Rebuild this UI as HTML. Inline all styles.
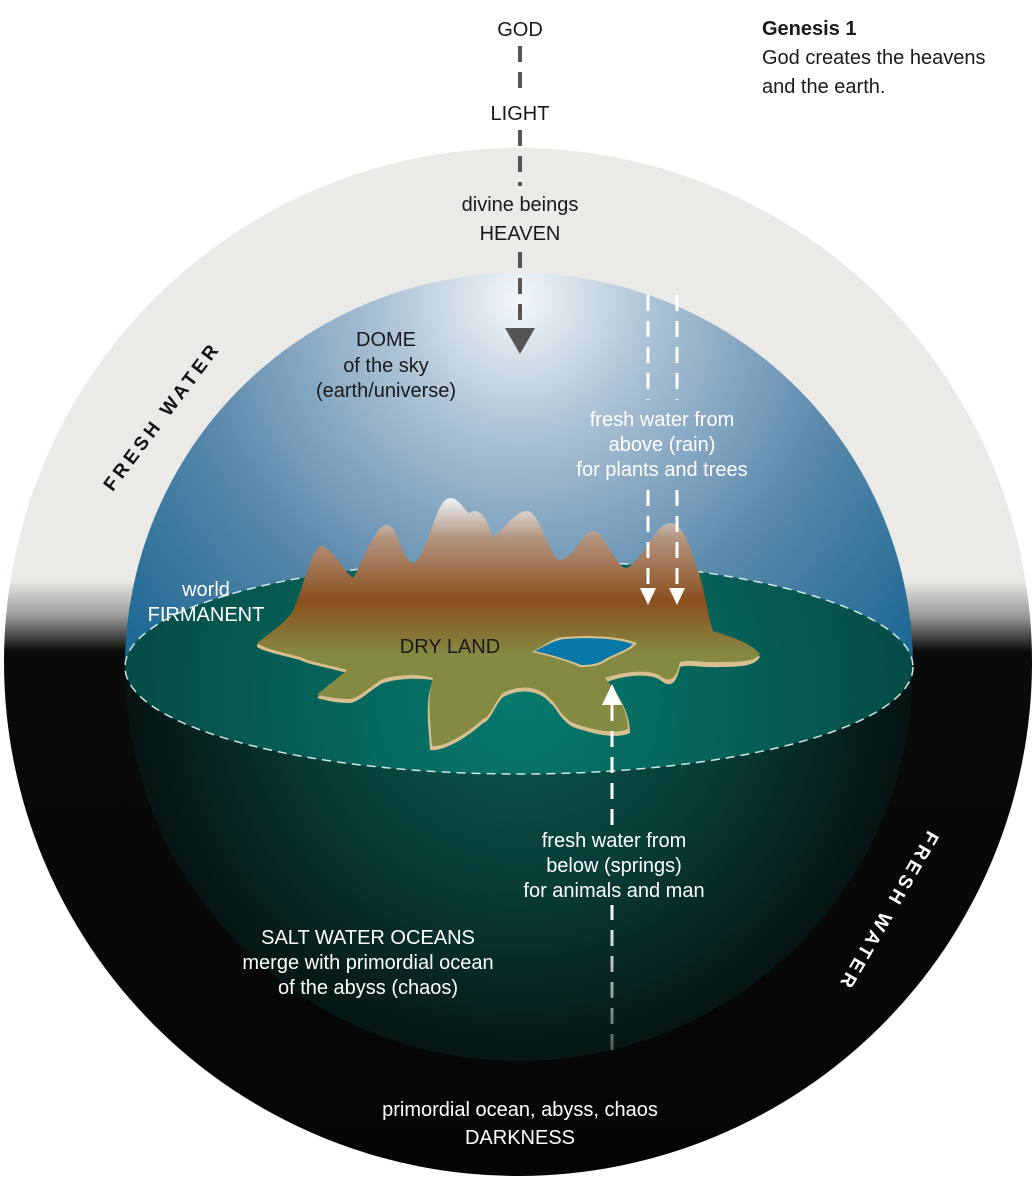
<!DOCTYPE html>
<html><head><meta charset="utf-8"><style>
html,body{margin:0;padding:0;background:#fff;}
body{width:1035px;height:1188px;overflow:hidden;}
svg text{font-family:"Liberation Sans",sans-serif;}
</style></head><body>
<svg width="1035" height="1188" viewBox="0 0 1035 1188" xmlns="http://www.w3.org/2000/svg">
<defs>
<linearGradient id="outer" x1="0" y1="0" x2="0" y2="1" gradientUnits="objectBoundingBox">
<stop offset="0" stop-color="#ebeae6"/>
<stop offset="0.42" stop-color="#ebeae6"/>
<stop offset="0.455" stop-color="#9a9a98"/>
<stop offset="0.49" stop-color="#0a0a0a"/>
<stop offset="1" stop-color="#050505"/>
</linearGradient>
<radialGradient id="dome" cx="519" cy="300" r="560" gradientUnits="userSpaceOnUse">
<stop offset="0" stop-color="#f4f7fa"/>
<stop offset="0.25" stop-color="#a9c0d4"/>
<stop offset="0.6" stop-color="#5887ab"/>
<stop offset="1" stop-color="#0f628f"/>
</radialGradient>
<radialGradient id="under" cx="519" cy="680" r="420" gradientUnits="userSpaceOnUse">
<stop offset="0" stop-color="#0c5d55"/>
<stop offset="0.5" stop-color="#083c37"/>
<stop offset="1" stop-color="#060d0c"/>
</radialGradient>
<radialGradient id="disk" cx="519" cy="700" r="400" gradientUnits="userSpaceOnUse">
<stop offset="0" stop-color="#077a6e"/>
<stop offset="1" stop-color="#054b45"/>
</radialGradient>
<linearGradient id="mtn" x1="0" y1="500" x2="0" y2="750" gradientUnits="userSpaceOnUse">
<stop offset="0" stop-color="#e9eef1"/>
<stop offset="0.15" stop-color="#b49580"/>
<stop offset="0.4" stop-color="#8a4f1e"/>
<stop offset="0.62" stop-color="#858a42"/>
<stop offset="1" stop-color="#858a42"/>
</linearGradient>
<linearGradient id="fade" x1="0" y1="905" x2="0" y2="1050" gradientUnits="userSpaceOnUse">
<stop offset="0" stop-color="#fff"/>
<stop offset="1" stop-color="#fff" stop-opacity="0.3"/>
</linearGradient>
</defs>
<circle cx="518" cy="662" r="514" fill="url(#outer)"/>
<path d="M125 667 A394 394 0 0 0 913 667 Z" fill="url(#under)"/>
<path d="M125 667 A394 394 0 0 1 913 667 Z" fill="url(#dome)"/>
<ellipse cx="519" cy="667" rx="394" ry="107" fill="url(#disk)"/>
<ellipse cx="519" cy="667" rx="394" ry="107" fill="none" stroke="#cfe6e3" stroke-width="1.5" stroke-dasharray="9,6"/>
<path d="M257 645 C270 635 285 625 293 613 C305 585 312 548 322 548 C333 550 345 575 353 580 C365 560 375 527 387 527 C398 527 403 565 413 565 C428 560 435 500 450 500 C460 500 465 515 470 515 C475 510 485 512 493 540 C505 530 515 513 527 513 C540 513 550 562 560 562 C575 560 583 533 593 533 C605 533 615 570 627 570 C645 560 655 525 670 525 C685 525 693 560 697 570 C705 590 708 620 713 633 C735 640 750 645 760 657 C755 665 745 667 720 667 C700 668 690 664 680 667 C676 685 670 688 660 680 C650 673 625 675 607 682 C615 690 630 710 630 733 C615 740 590 733 573 727 C560 720 555 705 550 703 C540 690 520 688 503 697 C495 705 490 722 483 723 C470 735 445 752 430 750 C428 720 425 700 433 680 C420 678 400 678 383 683 C370 690 360 702 350 703 C335 703 325 700 317 698 C325 690 340 680 347 673 C330 668 310 665 300 660 C285 656 265 652 257 647 Z" fill="#d7bf8f"/>
<path d="M257 643 C270 633 285 623 293 611 C305 583 312 546 322 546 C333 548 345 573 353 578 C365 558 375 525 387 525 C398 525 403 563 413 563 C428 558 435 498 450 498 C460 498 465 513 470 513 C475 508 485 510 493 538 C505 528 515 511 527 511 C540 511 550 560 560 560 C575 558 583 531 593 531 C605 531 615 568 627 568 C645 558 655 523 670 523 C685 523 693 558 697 568 C705 588 708 618 713 631 C735 638 750 643 760 654 C755 661 745 662 720 662 C700 663 690 659 680 662 C676 680 670 683 660 676 C650 669 625 671 605 678 C613 688 628 708 628 729 C613 735 590 729 573 723 C560 716 555 701 550 699 C540 686 520 684 503 693 C495 701 490 718 483 719 C470 731 445 748 432 746 C430 716 427 696 433 678 C420 674 400 674 383 679 C370 686 360 698 350 699 C335 699 325 696 317 695 C325 687 340 677 347 670 C330 665 310 662 300 657 C285 653 265 649 257 643 Z" fill="url(#mtn)"/>
<path d="M532 652 C545 645 553 638 563 637 C590 635 620 636 637 643 C630 652 615 655 603 663 C595 667 585 667 580 667 C565 660 545 655 532 652 Z" fill="#d7bf8f"/>
<path d="M535 651 C547 645 555 640 565 639 C590 637 615 638 633 644 C626 651 613 654 602 661 C594 665 586 665 581 665 C567 659 548 654 535 651 Z" fill="#0778a8"/>
<g stroke="#555" stroke-width="4" stroke-dasharray="16,10">
<line x1="520" y1="46" x2="520" y2="96"/>
<line x1="520" y1="130" x2="520" y2="186"/>
<line x1="520" y1="252" x2="520" y2="328"/>
</g>
<polygon points="505,328 535,328 520,354" fill="#555"/>
<g stroke="#fff" stroke-width="3" stroke-dasharray="16,10">
<line x1="648" y1="295" x2="648" y2="400"/>
<line x1="677" y1="295" x2="677" y2="400"/>
<line x1="648" y1="490" x2="648" y2="588"/>
<line x1="677" y1="490" x2="677" y2="588"/>
<line x1="612" y1="825" x2="612" y2="700"/>
</g>
<line x1="612" y1="1050" x2="612" y2="905" stroke="url(#fade)" stroke-width="3" stroke-dasharray="16,10"/>
<polygon points="640,588 656,588 648,605" fill="#fff"/>
<polygon points="669,588 685,588 677,605" fill="#fff"/>
<polygon points="602,705 622,705 612,684" fill="#fff"/>
<g font-size="20" text-anchor="middle" fill="#1a1a1a">
<text x="520" y="36">GOD</text>
<text x="520" y="120">LIGHT</text>
<text x="520" y="211">divine beings</text>
<text x="520" y="240">HEAVEN</text>
<text x="386" y="346">DOME</text>
<text x="386" y="372">of the sky</text>
<text x="386" y="397">(earth/universe)</text>
<text x="450" y="653">DRY LAND</text>
</g>
<g font-size="20" fill="#1a1a1a">
<text x="762" y="35" font-weight="bold">Genesis 1</text>
<text x="762" y="64">God creates the heavens</text>
<text x="762" y="93">and the earth.</text>
</g>
<g font-size="20" text-anchor="middle" fill="#fff">
<text x="662" y="426">fresh water from</text>
<text x="662" y="451">above (rain)</text>
<text x="662" y="476">for plants and trees</text>
<text x="206" y="596">world</text>
<text x="206" y="621">FIRMANENT</text>
<text x="614" y="847">fresh water from</text>
<text x="614" y="872">below (springs)</text>
<text x="614" y="897">for animals and man</text>
<text x="368" y="944">SALT WATER OCEANS</text>
<text x="368" y="969">merge with primordial ocean</text>
<text x="368" y="994">of the abyss (chaos)</text>
<text x="520" y="1116">primordial ocean, abyss, chaos</text>
<text x="520" y="1144">DARKNESS</text>
</g>
<text x="0" y="0" font-size="19" font-weight="bold" letter-spacing="4" text-anchor="middle" fill="#111" transform="translate(167,420) rotate(-53)">FRESH WATER</text>
<text x="0" y="0" font-size="19" font-weight="bold" letter-spacing="4" text-anchor="middle" fill="#fff" transform="translate(883,908) rotate(120)">FRESH WATER</text>
</svg>
</body></html>
